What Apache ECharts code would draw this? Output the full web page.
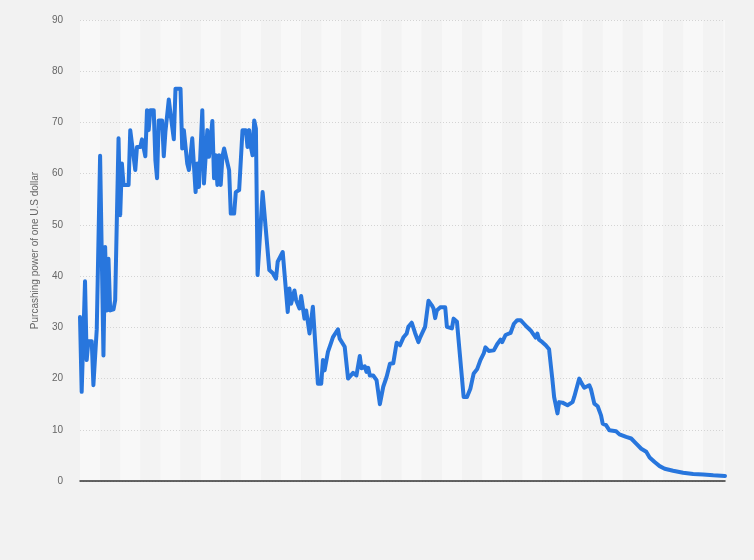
<!DOCTYPE html>
<html>
<head>
<meta charset="utf-8">
<script src="https://cdn.jsdelivr.net/npm/echarts@6/dist/echarts.min.js"></script>
<style>
html,body{margin:0;padding:0;background:#f2f2f2;}
#c{width:754px;height:560px;}
</style>
</head>
<body>
<div id="c"></div>
<script>
var years = [1635,1636,1638,1639,1640,1642,1643,1645,1647,1649,1650,1651,1652,1653,1655,1656,1658,1659,1660,1661,1664,1665,1666,1668,1669,1671,1672,1674,1675,1676,1677,1679,1680,1681,1682,1684,1685,1686,1688,1689,1691,1692,1695,1696,1697,1699,1700,1701,1702,1704,1705,1706,1708,1709,1711,1712,1714,1715,1716,1717,1718,1719,1720,1721,1724,1725,1727,1728,1730,1732,1734,1735,1736,1737,1738,1739,1740,1741,1744,1748,1750,1752,1753,1756,1759,1760,1761,1763,1764,1766,1767,1769,1770,1772,1774,1777,1779,1780,1781,1783,1785,1786,1789,1790,1793,1795,1798,1800,1802,1803,1805,1806,1807,1808,1810,1812,1814,1816,1818,1819,1820,1822,1824,1826,1828,1830,1831,1833,1835,1837,1838,1840,1841,1843,1845,1846,1847,1848,1850,1853,1854,1857,1858,1860,1864,1866,1868,1870,1872,1874,1876,1877,1879,1882,1884,1886,1887,1889,1890,1892,1894,1896,1898,1900,1902,1904,1905,1907,1908,1909,1911,1913,1915,1917,1918,1920,1921,1923,1926,1929,1930,1933,1934,1936,1939,1940,1942,1944,1946,1947,1949,1951,1955,1957,1961,1964,1967,1970,1973,1975,1978,1981,1984,1989,1995,2001,2007,2013,2020];
var values = [32.0,17.4,39.0,23.6,27.3,27.3,18.7,29.6,63.5,24.5,45.7,33.3,43.4,33.3,33.5,35.3,66.9,51.9,62.0,57.8,57.8,68.5,68.5,60.7,65.2,65.2,66.7,63.4,72.4,68.5,72.4,72.4,62.6,59.1,70.4,70.4,63.4,68.2,74.5,71.8,66.7,76.6,76.6,64.9,68.5,62.0,60.7,63.6,66.9,56.4,62.0,57.4,72.4,58.1,68.5,63.3,70.3,59.1,63.6,57.8,63.6,57.8,63.3,64.9,60.7,52.2,52.2,56.4,56.8,68.5,68.5,65.2,68.5,65.2,63.6,70.4,68.8,40.2,56.4,41.2,40.6,39.5,42.8,44.7,33.0,37.6,34.6,37.2,35.3,33.7,36.1,31.7,33.3,28.8,34.0,19.0,19.0,23.6,21.6,25.2,27.1,28.1,29.6,27.8,26.2,20.0,21.1,20.6,24.4,22.0,22.4,21.3,22.1,20.6,20.6,19.7,15.0,18.4,20.3,20.6,22.9,23.0,27.0,26.5,28.0,28.8,30.1,30.9,28.9,27.1,28.0,29.4,30.1,35.2,34.3,33.7,31.8,33.3,33.9,33.9,30.1,29.8,31.7,31.1,16.4,16.4,18.0,21.0,21.8,23.6,24.9,26.1,25.4,25.5,26.7,27.6,27.1,28.5,28.8,28.9,30.7,31.4,31.4,30.7,30.0,29.4,29.4,28.0,28.8,27.6,27.1,26.5,25.7,19.7,16.4,13.2,15.4,15.3,14.8,15.4,16.4,20.0,19.3,18.2,18.7,17.9,15.1,14.6,12.8,11.2,10.9,9.9,9.7,9.1,8.6,8.3,7.3,6.3,5.7,4.6,3.7,2.9,2.4,2.0,1.6,1.37,1.25,1.11,1.0];
var yTicks = [0,10,20,30,40,50,60,70,80,90];
var yAxisName = 'Purcashing power of one U.S dollar';

var seriesData = years.map(function(y,i){return [y, values[i]];});
var chart = echarts.init(document.getElementById('c'), null, {renderer:'canvas'});
chart.setOption({
  backgroundColor:'#f2f2f2',
  animation:false,
  grid:{left:80, right:29, top:20, bottom:79},
  xAxis:[
    {type:'value', min:1635, max:2020, z:3, axisLine:{show:true, lineStyle:{color:'#333', width:1.5}},
     axisTick:{show:false}, axisLabel:{show:false}, splitLine:{show:false}},
    {type:'value', min:0, max:385, interval:12, position:'bottom', z:0,
     axisLine:{show:false}, axisTick:{show:false}, axisLabel:{show:false}, splitLine:{show:false},
     splitArea:{show:true, areaStyle:{color:['#f8f8f8','#f3f3f3']}}}
  ],
  yAxis:{type:'value', min:yTicks[0], max:yTicks[yTicks.length-1], interval:10, z:2,
    name:yAxisName, nameLocation:'middle', nameGap:40,
    nameTextStyle:{color:'#666', fontSize:10, fontFamily:'Liberation Sans, Arial, sans-serif'},
    axisLine:{show:false}, axisTick:{show:false},
    axisLabel:{color:'#666', fontSize:10, margin:17, fontFamily:'Liberation Sans, Arial, sans-serif'},
    splitLine:{show:true, lineStyle:{color:'#d4d4d4', type:[1,2], width:1}}
  },
  series:[{type:'line', xAxisIndex:0, data:seriesData, symbol:'none', showSymbol:false,
    lineStyle:{color:'#2876dd', width:4, join:'round', cap:'round'}, z:5}]
});
</script>
</body>
</html>
